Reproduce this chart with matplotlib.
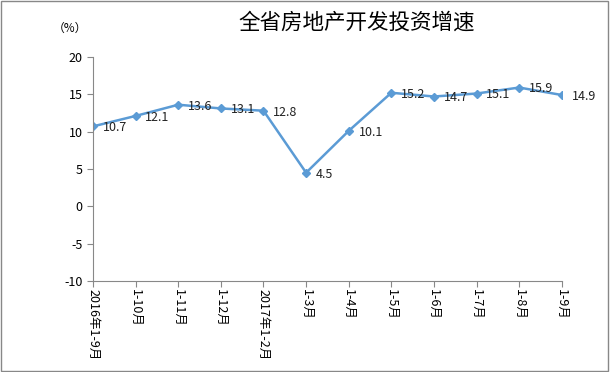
import matplotlib
matplotlib.use('Agg')
import matplotlib.pyplot as plt

plt.rcParams['font.family'] = ['Noto Sans CJK SC', 'DejaVu Sans']
plt.rcParams['axes.unicode_minus'] = False

months = ['2016年1-9月', '1-10月', '1-11月', '1-12月', '2017年1-2月', '1-3月',
          '1-4月', '1-5月', '1-6月', '1-7月', '1-8月', '1-9月']
growth = [10.7, 12.1, 13.6, 13.1, 12.8, 4.5, 10.1, 15.2, 14.7, 15.1, 15.9, 14.9]
yticks = [-10, -5, 0, 5, 10, 15, 20]

fig = plt.figure(figsize=(6.1, 3.72), dpi=100)
ax = fig.add_axes([0.1525, 0.2446, 0.7685, 0.6024])

x = list(range(len(months)))
ax.plot(x, growth, color='#5b9bd5', lw=1.8, marker='D', ms=4)
for i, v in enumerate(growth):
    ax.annotate(f'{v}', (i, v), xytext=(7, -1), textcoords='offset points',
                fontsize=9, va='center', ha='left', color='#222222')

ax.set_xlim(0, len(months) - 1)
ax.set_ylim(-10, 20)
ax.set_yticks(yticks)
ax.set_xticks(x)
ax.set_xticklabels(months, rotation=-90, fontsize=9, va='top', ha='center')
ax.tick_params(axis='y', labelsize=9, length=4, color='#888888')
ax.tick_params(axis='x', length=4, color='#888888', pad=2)
for s in ['top', 'right']:
    ax.spines[s].set_visible(False)
for s in ['left', 'bottom']:
    ax.spines[s].set_color('#888888')

fig.text(0.584, 0.94, '全省房地产开发投资增速', fontsize=15.5, ha='center', va='center',
         fontweight='medium')
fig.text(0.115, 0.925, '（%）', fontsize=8.5, ha='center', va='center')

fig.patches.append(plt.Rectangle((0.002, 0.003), 0.995, 0.994, transform=fig.transFigure,
                                 fill=False, edgecolor='#888888', lw=1))

fig.savefig('out.png', dpi=100)
